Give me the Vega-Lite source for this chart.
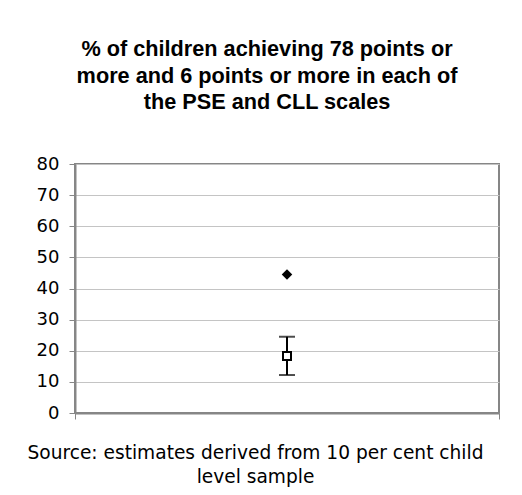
{
  "$schema": "https://vega.github.io/schema/vega-lite/v6.json",
  "autosize": "none",
  "width": 424,
  "height": 249,
  "padding": {"left": 75, "top": 164, "right": 23, "bottom": 82},
  "background": "white",
  "title": {
    "text": ["% of children achieving 78 points or", "more and 6 points or more in each of", "the PSE and CLL scales"],
    "font": "Liberation Sans",
    "fontSize": 21.7,
    "fontWeight": "bold",
    "color": "black",
    "lineHeight": 26.5,
    "anchor": "middle",
    "frame": "group",
    "dx": -20,
    "offset": 41
  },
  "data": {"values": [
    {"group": "All children", "population": 44.5, "estimate": 18.3, "lower": 12.2, "upper": 24.5}
  ]},
  "encoding": {
    "x": {
      "field": "group", "type": "nominal",
      "scale": {"type": "band", "paddingInner": 0, "paddingOuter": 0},
      "axis": {
        "labels": false, "tickBand": "extent", "grid": false,
        "domainColor": "#868686", "domainWidth": 2, "tickColor": "#868686", "tickSize": 6, "tickWidth": 1,
        "title": ["Source: estimates derived from 10 per cent child", "level sample"],
        "titleFont": "DejaVu Sans", "titleFontSize": 18.6, "titleFontWeight": "normal", "titleColor": "black",
        "titleLineHeight": 24, "titlePadding": 24, "titleX": 180, "titleAlign": "center"
      }
    }
  },
  "layer": [
    {
      "mark": {"type": "rule", "color": "black", "strokeWidth": 2},
      "encoding": {
        "y": {"field": "lower", "type": "quantitative", "scale": {"domain": [0, 80], "nice": false}, "title": null},
        "y2": {"field": "upper"}
      }
    },
    {
      "mark": {"type": "tick", "color": "black", "thickness": 2, "size": 16},
      "encoding": {"y": {"field": "lower", "type": "quantitative", "title": null}}
    },
    {
      "mark": {"type": "tick", "color": "black", "thickness": 2, "size": 16},
      "encoding": {"y": {"field": "upper", "type": "quantitative", "title": null}}
    },
    {
      "mark": {"type": "point", "shape": "square", "filled": true, "fill": "white", "stroke": "black", "strokeWidth": 2, "size": 64, "opacity": 1},
      "encoding": {"y": {"field": "estimate", "type": "quantitative", "title": null}}
    },
    {
      "mark": {"type": "point", "shape": "diamond", "filled": true, "color": "black", "size": 110, "opacity": 1},
      "encoding": {"y": {"field": "population", "type": "quantitative", "title": null}}
    }
  ],
  "config": {
    "view": {"stroke": "#868686", "strokeWidth": 2},
    "axisY": {
      "tickCount": 8, "labelOverlap": false, "grid": true, "gridColor": "#c4c4c4", "gridWidth": 1,
      "domainColor": "#868686", "domainWidth": 2, "tickColor": "#868686", "tickSize": 6,
      "labelFont": "DejaVu Sans", "labelFontSize": 18, "labelColor": "black", "labelPadding": 10
    }
  }
}
